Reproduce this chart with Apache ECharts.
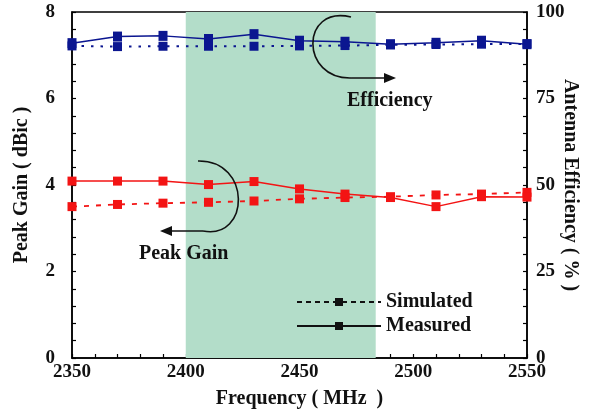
<!DOCTYPE html>
<html>
<head>
<meta charset="utf-8">
<script src="https://cdn.jsdelivr.net/npm/echarts@6/dist/echarts.min.js"></script>
<style>html,body{margin:0;padding:0;background:#fff}#c{width:590px;height:414px}</style>
</head>
<body>
<div id="c"></div>
<script>
const freq = [2350,2370,2390,2410,2430,2450,2470,2490,2510,2530,2550];
const gainSim = [3.50,3.55,3.58,3.60,3.63,3.68,3.71,3.73,3.77,3.79,3.83];
const gainMeas = [4.09,4.09,4.09,4.01,4.08,3.91,3.79,3.71,3.50,3.73,3.72];
const effSim = [90.2,90.0,90.1,90.1,90.1,90.2,90.3,90.5,90.6,90.7,90.8];
const effMeas = [91.0,92.9,93.1,92.2,93.6,91.7,91.4,90.7,91.1,91.7,90.7];
const band = [2400, 2483.5];
const xTicks = [2350,2400,2450,2500,2550];
const leftTicks = [0,2,4,6,8];
const rightTicks = [0,25,50,75,100];

const FONT = 'Liberation Serif';
const RED = '#f31414';
const BLUE = '#0b1690';
const zip = (a,b) => a.map((v,i)=>[v,b[i]]);
const fmt = v => String(v);
const lbl = {fontFamily:FONT, fontWeight:'bold', fontSize:19, color:'#111', formatter:fmt};
const nameSty = {fontFamily:FONT, fontWeight:'bold', fontSize:20, color:'#111'};

const chart = echarts.init(document.getElementById('c'));
chart.setOption({
  animation:false,
  grid:{left:72,right:63,top:12,bottom:56,show:true,borderColor:'#000',borderWidth:1.5,outerBoundsMode:'none',containLabel:false},
  legend:{
    orient:'vertical', left:291, top:287, itemGap:4, itemWidth:84, itemHeight:10,
    textStyle:{fontFamily:FONT, fontWeight:'bold', fontSize:20, color:'#111'},
    data:[
      {name:'Simulated', itemStyle:{color:'#111'}, lineStyle:{color:'#111', type:[5,4], width:2}},
      {name:'Measured', itemStyle:{color:'#111'}, lineStyle:{color:'#111', type:'solid', width:2}}
    ]
  },
  xAxis:{
    type:'value', min:xTicks[0], max:xTicks[xTicks.length-1], interval:50,
    name:'Frequency ( MHz  )', nameLocation:'middle', nameGap:31, nameTextStyle:nameSty, nameMoveOverlap:false,
    axisLine:{lineStyle:{color:'#000',width:1.5}},
    axisTick:{inside:true,length:4,lineStyle:{color:'#000',width:1.2}},
    minorTick:{show:true,splitNumber:5,length:4,lineStyle:{color:'#000',width:1.2}},
    axisLabel:{...lbl, margin:5},
    splitLine:{show:false}
  },
  yAxis:[{
    type:'value', min:leftTicks[0], max:leftTicks[leftTicks.length-1], interval:2,
    name:'Peak Gain ( dBic )', nameLocation:'middle', nameRotate:90, nameGap:40, nameTextStyle:nameSty, nameMoveOverlap:false,
    axisLine:{show:true,lineStyle:{color:'#000',width:1.5}},
    axisTick:{show:true,inside:true,length:4,lineStyle:{color:'#000',width:1.2}},
    minorTick:{show:true,splitNumber:5,length:4,lineStyle:{color:'#000',width:1.2}},
    axisLabel:{...lbl, margin:17},
    splitLine:{show:false}
  },{
    type:'value', min:rightTicks[0], max:rightTicks[rightTicks.length-1], interval:25,
    name:'Antenna Efficiency ( % )', nameLocation:'middle', nameRotate:-90, nameGap:33, nameTextStyle:nameSty, nameMoveOverlap:false,
    axisLine:{show:true,lineStyle:{color:'#000',width:1.5}},
    axisTick:{show:true,inside:true,length:4,lineStyle:{color:'#000',width:1.2}},
    minorTick:{show:true,splitNumber:5,length:4,lineStyle:{color:'#000',width:1.2}},
    axisLabel:{...lbl, margin:9},
    splitLine:{show:false}
  }],
  series:[
    {name:'Simulated', type:'line', yAxisIndex:0, data:zip(freq,gainSim), symbol:'rect', symbolSize:9,
     itemStyle:{color:RED}, lineStyle:{color:RED,width:1.8,type:[5,7]},
     markArea:{silent:true, itemStyle:{color:'#b3ddc9'}, data:[[{xAxis:band[0]},{xAxis:band[1]}]]}, z:3},
    {name:'Measured', type:'line', yAxisIndex:0, data:zip(freq,gainMeas), symbol:'rect', symbolSize:9,
     itemStyle:{color:RED}, lineStyle:{color:RED,width:1.5}, z:3},
    {name:'Simulated', type:'line', yAxisIndex:1, data:zip(freq,effSim), symbol:'rect', symbolSize:9,
     itemStyle:{color:BLUE}, lineStyle:{color:BLUE,width:2,type:[2.5,7]}, z:3},
    {name:'Measured', type:'line', yAxisIndex:1, data:zip(freq,effMeas), symbol:'rect', symbolSize:[9,10],
     itemStyle:{color:BLUE}, lineStyle:{color:BLUE,width:1.5}, z:3}
  ],
  graphic:[
    {type:'bezierCurve', z:10, shape:{x1:351,y1:17,cpx1:300,cpy1:5,cpx2:300,cpy2:80,x2:352,y2:78},
     style:{stroke:'#111',lineWidth:1.6,fill:null}},
    {type:'line', z:10, shape:{x1:352,y1:78,x2:386,y2:78}, style:{stroke:'#111',lineWidth:1.6}},
    {type:'polygon', z:10, shape:{points:[[396,78],[384,73],[384,83]]}, style:{fill:'#111'}},
    {type:'text', z:10, left:347, top:91, style:{text:'Efficiency', font:'bold 20px "Liberation Serif"', fill:'#111'}},
    {type:'bezierCurve', z:10, shape:{x1:198,y1:161,cpx1:252,cpy1:160,cpx2:250,cpy2:240,x2:203,y2:231},
     style:{stroke:'#111',lineWidth:1.6,fill:null}},
    {type:'line', z:10, shape:{x1:203,y1:231,x2:170,y2:231}, style:{stroke:'#111',lineWidth:1.6}},
    {type:'polygon', z:10, shape:{points:[[160,231],[172,226],[172,236]]}, style:{fill:'#111'}},
    {type:'text', z:10, left:139, top:244, style:{text:'Peak Gain', font:'bold 20px "Liberation Serif"', fill:'#111'}}
  ]
});
</script>
</body>
</html>
